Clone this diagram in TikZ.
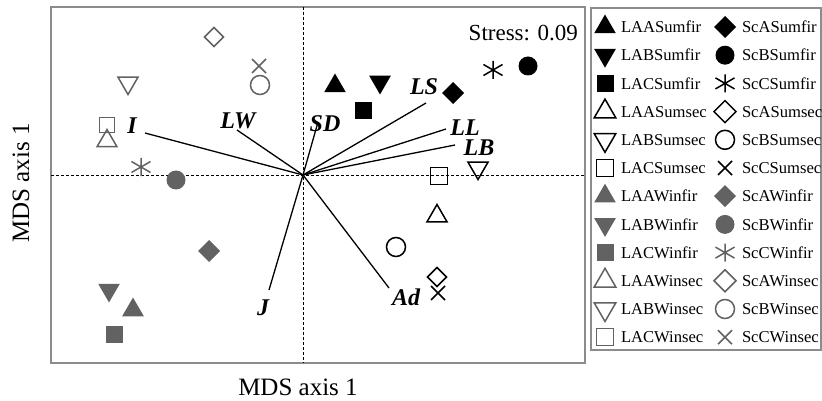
\documentclass[tikz,border=0pt]{standalone}
\usepackage{fontspec}
\setmainfont{Liberation Serif}
\usetikzlibrary{shapes.geometric,shapes.misc}
\definecolor{sumc}{RGB}{0,0,0}
\definecolor{winc}{RGB}{98,98,98}
\definecolor{framec}{RGB}{140,140,140}

\begin{document}
\begin{tikzpicture} [
        x=1pt, y=-1pt,
        every node/.style={inner sep=0pt, outer sep=0pt},
        fir/.style={fill=#1, draw=none},
        sec/.style={draw=#1, line width=1.5pt},
        star/.style={path picture={\draw[#1, line width=1.5pt]
            ([yshift=9pt]path picture bounding box.center) -- ([yshift=-9pt]path picture bounding box.center)
            ([shift={(30:11pt)}]path picture bounding box.center) -- ([shift={(210:11pt)}]path picture bounding box.center)
            ([shift={(150:11pt)}]path picture bounding box.center) -- ([shift={(330:11pt)}]path picture bounding box.center);}},
        tri/.style={regular polygon, regular polygon sides=3, minimum size=25pt},
        dtri/.style={tri, shape border rotate=180},
        sq/.style={rectangle, minimum size=17pt},
        dia/.style={diamond, minimum size=22pt},
        circ/.style={circle, minimum size=19pt},
        xmark/.style={cross out, minimum size=14pt},
        ast/.style={rectangle, minimum size=24pt},
        vec/.style={line width=1.3pt},
        veclab/.style={font=\fontsize{24}{26}\selectfont\bfseries\itshape},
        legtext/.style={anchor=west, font=\fontsize{16.6}{18}\selectfont},
        axlab/.style={font=\fontsize{25}{28}\selectfont} ]
    \useasboundingbox (0,0) rectangle (822,401);

    % frames and zero lines
    \draw[framec, line width=1.3pt] (51,7) rectangle (585,363);
    \draw[framec, line width=1.3pt] (591,8) rectangle (821,350);
    \draw[line width=0.9pt, dash pattern=on 3pt off 2pt] (51,175) -- (585,175) (303,7) -- (303,363);

    % vectors
    \coordinate (o) at (303,175);
    \node[veclab] (lab-i)  at (132,126) {I};
    \node[veclab] (lab-lw) at (238,121) {LW};
    \node[veclab] (lab-sd) at (325,124) {SD};
    \node[veclab] (lab-ls) at (424,87) {LS};
    \node[veclab] (lab-ll) at (465,128) {LL};
    \node[veclab] (lab-lb) at (479,148) {LB};
    \node[veclab] (lab-j)  at (263,308) {J};
    \node[veclab] (lab-ad) at (406,297) {Ad};
    \coordinate (end-i)  at (145,133);
    \coordinate (end-lw) at (237,130);
    \coordinate (end-sd) at (318,122);
    \coordinate (end-ls) at (426,103);
    \coordinate (end-ll) at (446,129);
    \coordinate (end-lb) at (455,145);
    \coordinate (end-j)  at (269,290);
    \coordinate (end-ad) at (389,288);
    \draw[vec] (o) -- (end-i);
    \draw[vec] (o) -- (end-lw);
    \draw[vec] (o) -- (end-sd);
    \draw[vec] (o) -- (end-ls);
    \draw[vec] (o) -- (end-ll);
    \draw[vec] (o) -- (end-lb);
    \draw[vec] (o) -- (end-j);
    \draw[vec] (o) -- (end-ad);

    % summer, first
    \node[tri, fir=sumc]  (laa-sumfir) at (335,86) {};
    \node[dtri, fir=sumc] (lab-sumfir) at (380,82) {};
    \node[sq, fir=sumc]   (lac-sumfir) at (363,111) {};
    \node[dia, fir=sumc]  (sca-sumfir) at (453,93) {};
    \node[circ, fir=sumc] (scb-sumfir) at (528,66) {};
    \node[ast, star=sumc] (scc-sumfir) at (493,70) {};
    % summer, second
    \node[tri, sec=sumc, minimum size=23pt]  (laa-sumsec) at (437,216) {};
    \node[dtri, sec=sumc, minimum size=23pt] (lab-sumsec) at (478,168) {};
    \node[sq, sec=sumc]    (lac-sumsec) at (439,176) {};
    \node[dia, sec=sumc, minimum size=19pt] (sca-sumsec) at (437,277) {};
    \node[circ, sec=sumc]  (scb-sumsec) at (396,247) {};
    \node[xmark, sec=sumc] (scc-sumsec) at (438,293) {};
    % winter, first
    \node[tri, fir=winc]  (laa-winfir) at (133,310) {};
    \node[dtri, fir=winc] (lab-winfir) at (109,290) {};
    \node[sq, fir=winc]   (lac-winfir) at (114,334) {};
    \node[dia, fir=winc]  (sca-winfir) at (209,251) {};
    \node[circ, fir=winc] (scb-winfir) at (176,180) {};
    \node[ast, star=winc] (scc-winfir) at (141,167) {};
    % winter, second
    \node[tri, sec=winc, minimum size=23pt]  (laa-winsec) at (107,141) {};
    \node[dtri, sec=winc, minimum size=23pt] (lab-winsec) at (128,83) {};
    \node[sq, sec=winc, minimum size=15pt] (lac-winsec) at (107,125) {};
    \node[dia, sec=winc, minimum size=19pt] (sca-winsec) at (214,37) {};
    \node[circ, sec=winc]  (scb-winsec) at (260,85) {};
    \node[xmark, sec=winc] (scc-winsec) at (259,66) {};

    \node[anchor=east, font=\fontsize{23}{25}\selectfont] (stress) at (578,33) {Stress: 0.09};

    % axis titles
    \node[axlab] (xlab) at (298,387) {MDS axis 1};
    \node[axlab, rotate=90] (ylab) at (21,183) {MDS axis 1};

    % legend
    \foreach \shp/\kind/\col/\lab [count=\i from 0] in {
        tri/fir/sumc/LAASumfir, dtri/fir/sumc/LABSumfir, sq/fir/sumc/LACSumfir,
        tri/sec/sumc/LAASumsec, dtri/sec/sumc/LABSumsec, sq/sec/sumc/LACSumsec,
        tri/fir/winc/LAAWinfir, dtri/fir/winc/LABWinfir, sq/fir/winc/LACWinfir,
        tri/sec/winc/LAAWinsec, dtri/sec/winc/LABWinsec, sq/sec/winc/LACWinsec} {
        \node[\shp, \kind=\col] (lgl\i) at (605,{27+28.2*\i}) {};
        \node[legtext] (lgltxt\i) at (621,{27+28.2*\i}) {\lab};
    }
    \foreach \shp/\kind/\col/\lab [count=\i from 0] in {
        dia/fir/sumc/ScASumfir, circ/fir/sumc/ScBSumfir, ast/star/sumc/ScCSumfir,
        dia/sec/sumc/ScASumsec, circ/sec/sumc/ScBSumsec, xmark/sec/sumc/ScCSumsec,
        dia/fir/winc/ScAWinfir, circ/fir/winc/ScBWinfir, ast/star/winc/ScCWinfir,
        dia/sec/winc/ScAWinsec, circ/sec/winc/ScBWinsec, xmark/sec/winc/ScCWinsec} {
        \node[\shp, \kind=\col] (lgr\i) at (725,{27+28.2*\i}) {};
        \node[legtext] (lgrtxt\i) at (742,{27+28.2*\i}) {\lab};
    }
\end{tikzpicture}
\end{document}
